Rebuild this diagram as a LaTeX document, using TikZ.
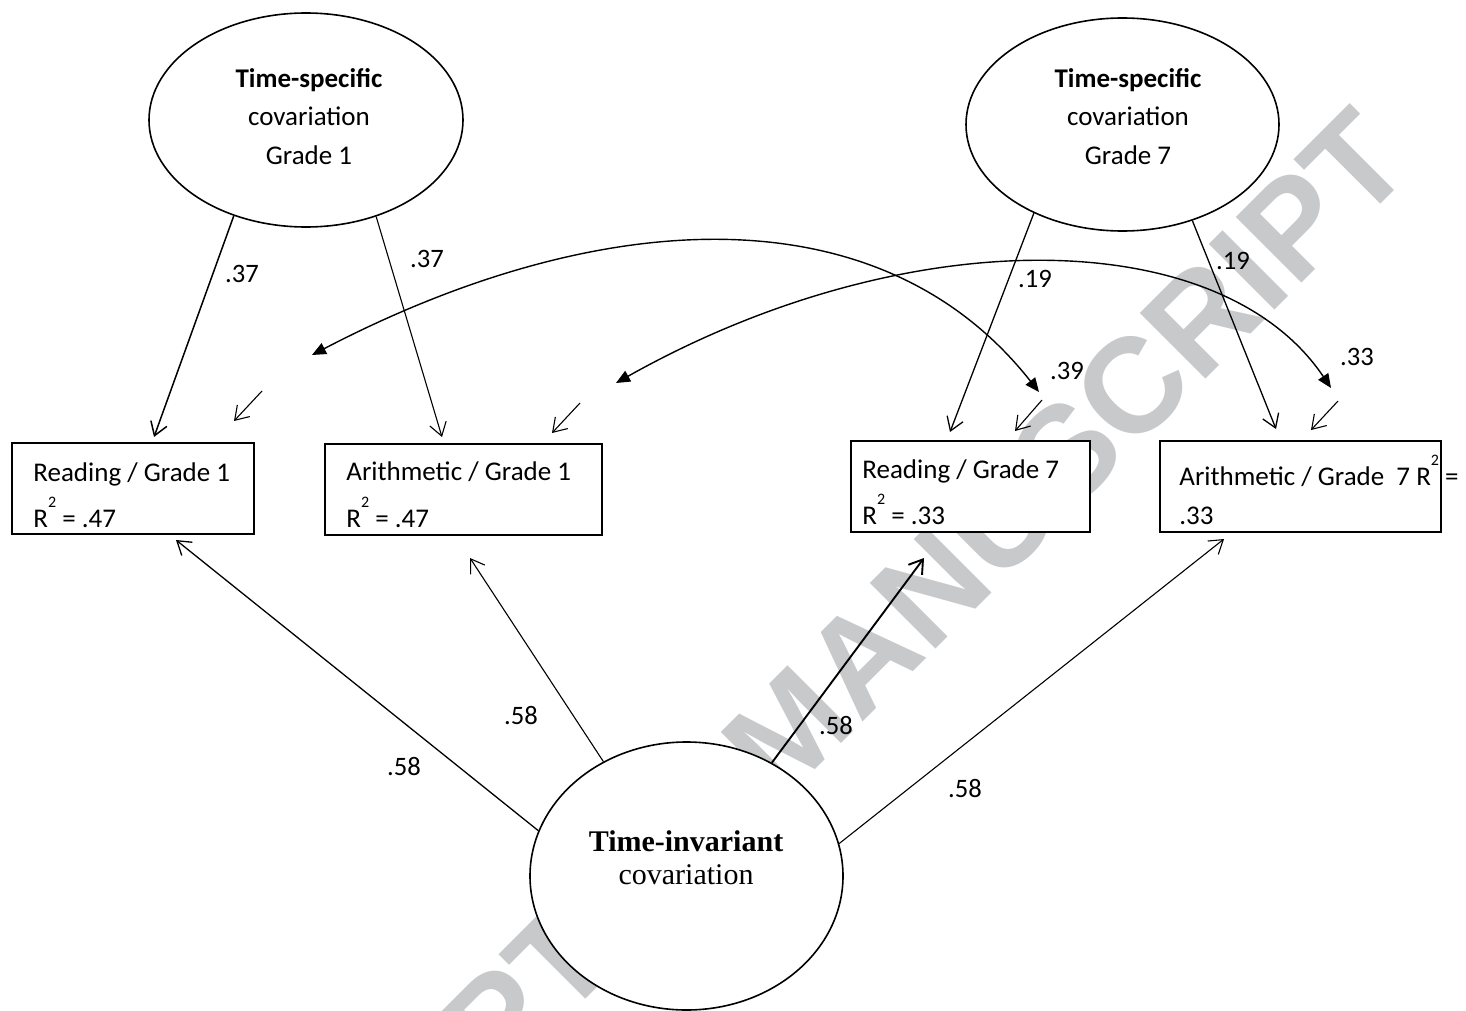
\documentclass[tikz,border=0pt]{standalone}
\usepackage{fontspec}
\setmainfont{Carlito}
\newfontfamily\tnrfont{Liberation Serif}
\newfontfamily\wmfont{Liberation Sans}
\usetikzlibrary{arrows.meta,shapes.geometric}
\definecolor{wmgray}{RGB}{200,201,203}
\newcommand{\rsq}{R\raisebox{10pt}{\fontsize{8}{8}\selectfont 2}}
\begin{document}
\begin{tikzpicture}[x=0.5pt,y=-0.5pt,
  lat/.style={ellipse,draw,line width=0.8pt,fill=white,inner sep=0pt},
  box/.style={rectangle,draw,line width=0.85pt,fill=white,inner sep=0pt,minimum height=45.5pt},
  txt/.style={inner sep=0pt,font=\fontsize{13.5}{16}\selectfont},
  ttxt/.style={inner sep=0pt,font=\fontsize{13.5}{16}\selectfont\bfseries},
  tinv/.style={inner sep=0pt,font=\tnrfont\fontsize{15}{18}\selectfont},
  coef/.style={inner sep=0pt,font=\fontsize{13.3}{16}\selectfont},
  pth/.style={-{Straight Barb[length=6.5pt,width=8.5pt]},line width=0.55pt},
  cov/.style={{Triangle[length=7pt,width=6pt]}-{Triangle[length=7pt,width=6pt]},line width=0.7pt},
  wm/.style={inner sep=0pt,text=wmgray,font=\wmfont\bfseries\fontsize{67.5}{70}\selectfont}
]
\useasboundingbox (0,0) rectangle (1466,1011);
% watermark
\begin{scope}
\clip (0,0) rectangle (1466,1011);
\node[wm,rotate=45,anchor=base west] (wmark) at (229,1356) {ACCEPTED MANUSCRIPT};
\end{scope}
% latent variables
\node[lat,minimum width=157pt,minimum height=107pt] (ts1) at (306,120) {};
\node[lat,minimum width=156.5pt,minimum height=106.5pt] (ts7) at (1122.5,124.5) {};
\node[lat,minimum width=156.5pt,minimum height=134pt] (ti) at (686.5,876) {};
\node[ttxt,anchor=base] (ts1a) at (309,88) {Time-specific};
\node[txt,anchor=base] (ts1b) at (309,126) {covariation};
\node[txt,anchor=base] (ts1c) at (309,164) {Grade 1};
\node[ttxt,anchor=base] (ts7a) at (1128,88) {Time-specific};
\node[txt,anchor=base] (ts7b) at (1128,126) {covariation};
\node[txt,anchor=base] (ts7c) at (1128,164) {Grade 7};
\node[tinv,anchor=base] (tia) at (686,851) {\bfseries Time-invariant};
\node[tinv,anchor=base] (tib) at (686,884) {covariation};
% observed variables
\node[box,minimum width=121pt] (rg1) at (133,488.5) {};
\node[box,minimum width=138.5pt] (ag1) at (463.5,489.5) {};
\node[box,minimum width=119.5pt] (rg7) at (970.5,486.5) {};
\node[box,minimum width=140.5pt] (ag7) at (1300.5,486.5) {};
\node[txt,anchor=base west] (rg1a) at (33,481) {Reading / Grade 1};
\node[txt,anchor=base west] (rg1b) at (33,527) {\rsq{} = .47};
\node[txt,anchor=base west] (ag1a) at (346,480) {Arithmetic / Grade 1};
\node[txt,anchor=base west] (ag1b) at (346,527) {\rsq{} = .47};
\node[txt,anchor=base west] (rg7a) at (862,478) {Reading / Grade 7};
\node[txt,anchor=base west] (rg7b) at (862,524) {\rsq{} = .33};
\node[txt,anchor=base west] (ag7a) at (1179,485) {Arithmetic / Grade\ \ 7 \rsq{} =};
\node[txt,anchor=base west] (ag7b) at (1179,524) {.33};
% connector end points
\coordinate (e-rg1-ts) at (154,437);
\coordinate (e-ag1-ts) at (442,437);
\coordinate (e-rg7-ts) at (950,432);
\coordinate (e-ag7-ts) at (1276,429);
\coordinate (e-rg1-ti) at (176,540);
\coordinate (e-ag1-ti) at (470,558);
\coordinate (e-rg7-ti) at (924,558);
\coordinate (e-ag7-ti) at (1224,539);
\coordinate (r1s) at (262,391); \coordinate (r1e) at (234,421);
\coordinate (r2s) at (580,403); \coordinate (r2e) at (552,433);
\coordinate (r3s) at (1042,400); \coordinate (r3e) at (1015,431);
\coordinate (r4s) at (1338,401); \coordinate (r4e) at (1311,430);
\coordinate (c1a) at (312,355); \coordinate (c1b) at (1039,392);
\coordinate (c2a) at (616,383); \coordinate (c2b) at (1331,388);
% paths
\draw[pth,line width=0.75pt] (ts1.233) -- (e-rg1-ts);
\draw[pth] (ts1.306) -- (e-ag1-ts);
\draw[pth,line width=0.65pt] (ts7.225) -- (e-rg7-ts);
\draw[pth,line width=0.65pt] (ts7.306) -- (e-ag7-ts);
\draw[pth,line width=0.65pt] (ti.163) -- (e-rg1-ti);
\draw[pth] (ti.126) -- (e-ag1-ti);
\draw[pth,line width=0.95pt] (ti.53) -- (e-rg7-ti);
\draw[pth] (ti.12) -- (e-ag7-ti);
% residuals
\draw[pth] (r1s) -- (r1e);
\draw[pth] (r2s) -- (r2e);
\draw[pth] (r3s) -- (r3e);
\draw[pth] (r4s) -- (r4e);
% covariances
\draw[cov] (c1a) .. controls (600,205) and (880,190) .. (c1b);
\draw[cov] (c2a) .. controls (906,220) and (1220,223) .. (c2b);
% coefficients
\node[coef] (l1) at (242,274) {.37};
\node[coef] (l2) at (427,259) {.37};
\node[coef] (l3) at (1035,279) {.19};
\node[coef] (l4) at (1233,261) {.19};
\node[coef] (l5) at (1067,371) {.39};
\node[coef] (l6) at (1357,357) {.33};
\node[coef] (l7) at (404,767) {.58};
\node[coef] (l8) at (521,716) {.58};
\node[coef] (l9) at (836,726) {.58};
\node[coef] (l10) at (965,789) {.58};
\end{tikzpicture}
\end{document}
